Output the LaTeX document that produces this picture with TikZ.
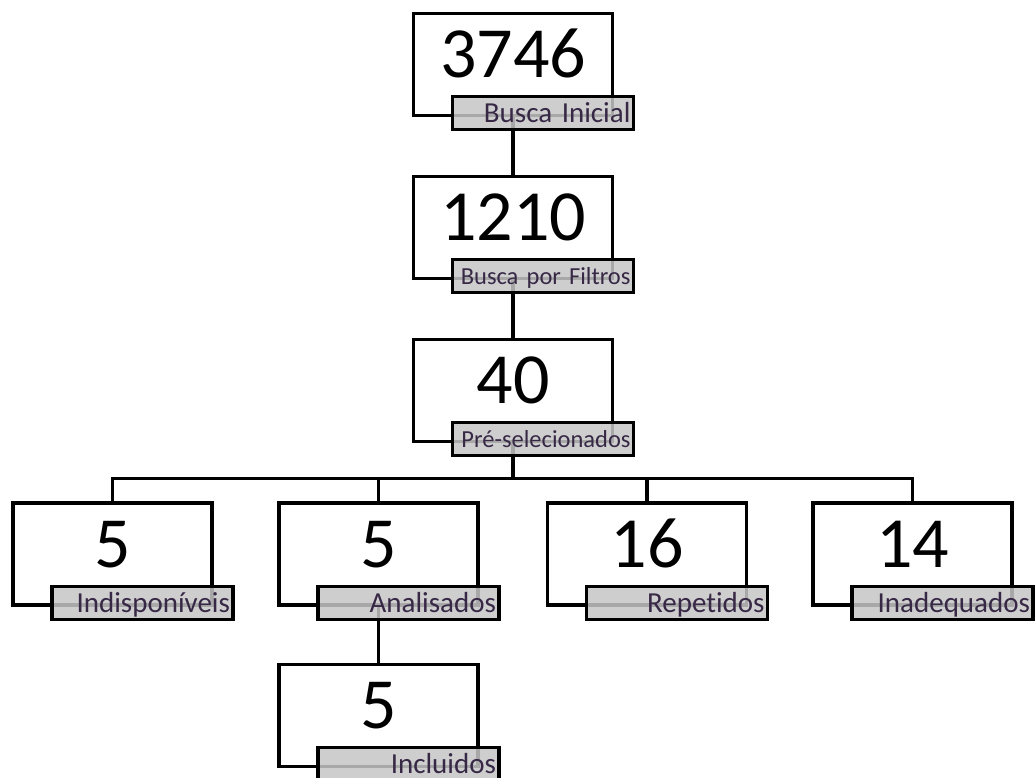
\documentclass[tikz,border=0pt]{standalone}
\usepackage{fontspec}
\setmainfont{Carlito}[Ligatures=NoCommon]
\definecolor{tagfill}{RGB}{198,198,198}
\definecolor{tagtext}{RGB}{55,40,70}
\usetikzlibrary{positioning}

\begin{document}
\begin{tikzpicture}[x=1pt,y=-1pt,
    box/.style={draw,line width=3.2pt,fill=white,minimum width=199pt,minimum height=102pt,
      inner sep=0pt,font=\fontsize{72}{72}\selectfont,text height=46pt,text depth=20pt},
    tag/.style={draw,line width=3.2pt,fill=tagfill,fill opacity=0.85,text opacity=1,
      minimum width=181pt,minimum height=33pt,inner sep=0pt,
      text width=175pt,align=right,font=\fontsize{29}{29}\selectfont,text=tagtext,
      text height=19pt,text depth=0pt,below left=-22pt and -21pt of #1},
    longtag/.style={font=\fontsize{24.5}{24.5}\selectfont,text height=16pt},
    conn/.style={line width=3.2pt}]
  \useasboundingbox (0,0) rectangle (1035,778);

  % number boxes
  \node[box] (b1) at (513,64.5) {3746};
  \node[box] (b2) at (513,227.5) {1210};
  \node[box] (b3) at (513,390.5) {40};
  \node[box] (ba) at (112.5,554) {5};
  \node[box] (bb) at (378.5,554) {5};
  \node[box] (bc) at (647,554) {16};
  \node[box] (bd) at (912.5,554) {14};
  \node[box] (be) at (378.5,715.5) {5};

  % connectors
  \draw[conn] (b1.south) -- (b2.north);
  \draw[conn] (b2.south) -- (b3.north);
  \draw[conn] (b3.south) -- ++(0,35) coordinate (split);
  \foreach \n in {ba,bb,bc,bd}
    \draw[conn] (split) -| (\n.north);
  \draw[conn] (bb.south) -- (be.north);

  % captions
  \node[tag=b1.south east] (t1) {Busca Inicial};
  \node[tag=b2.south east,longtag] (t2) {Busca por Filtros};
  \node[tag=b3.south east,longtag] (t3) {Pré-selecionados};
  \node[tag=ba.south east] (ta) {Indisponíveis};
  \node[tag=bb.south east] (tb) {Analisados};
  \node[tag=bc.south east] (tc) {Repetidos};
  \node[tag=bd.south east] (td) {Inadequados};
  \node[tag=be.south east] (te) {Incluidos};
\end{tikzpicture}
\end{document}
